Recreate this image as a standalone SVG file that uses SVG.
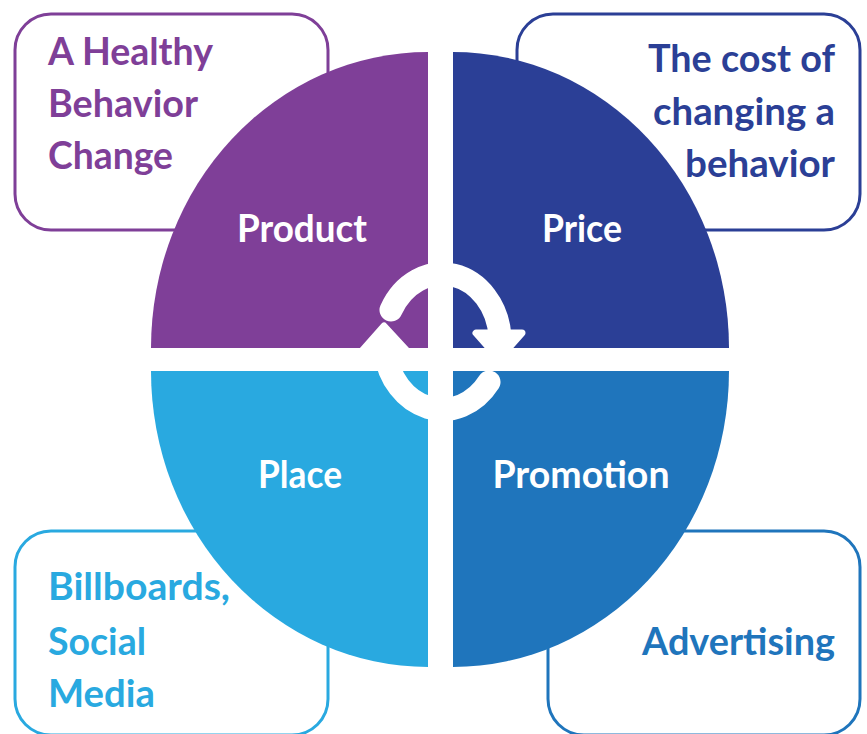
<svg xmlns="http://www.w3.org/2000/svg" width="867" height="734" viewBox="0 0 867 734">
  <style>
    .box { fill: #FFFFFF; stroke-width: 3; }
    .t { font-family: Lato, "Open Sans", "Liberation Sans", sans-serif; font-weight: bold; font-size: 38px; }
    .lbl { fill: #FFFFFF; text-anchor: middle; }
    .end { text-anchor: end; }
    .arc { fill: none; stroke: #FFFFFF; stroke-width: 23; stroke-linecap: round; }
    .head { fill: #FFFFFF; stroke: #FFFFFF; stroke-width: 7; stroke-linejoin: round; }
  </style>
  <rect width="867" height="734" fill="#FFFFFF"/>

  <g id="product">
    <rect class="box" x="15" y="14" width="313" height="216" rx="36" stroke="#7F3F98"/>
    <path d="M428,348 L151,348 A277,296 0 0 1 428,52 Z" fill="#7F3F98"/>
    <g class="t" fill="#7F3F98">
      <text x="48" y="65" textLength="165" lengthAdjust="spacingAndGlyphs">A Healthy</text>
      <text x="48" y="117" textLength="150" lengthAdjust="spacingAndGlyphs">Behavior</text>
      <text x="48" y="169" textLength="125" lengthAdjust="spacingAndGlyphs">Change</text>
    </g>
    <text class="t lbl" x="302" y="242" textLength="130" lengthAdjust="spacingAndGlyphs">Product</text>
  </g>

  <g id="price">
    <rect class="box" x="517" y="14" width="343" height="216" rx="36" stroke="#2B3F96"/>
    <path d="M453,348 L453,52 A276,296 0 0 1 729,348 Z" fill="#2B3F96"/>
    <g class="t end" fill="#2B3F96">
      <text x="835" y="72" textLength="187" lengthAdjust="spacingAndGlyphs">The cost of</text>
      <text x="835" y="125" textLength="182" lengthAdjust="spacingAndGlyphs">changing a</text>
      <text x="835" y="177" textLength="150" lengthAdjust="spacingAndGlyphs">behavior</text>
    </g>
    <text class="t lbl" x="582" y="242" textLength="80" lengthAdjust="spacingAndGlyphs">Price</text>
  </g>

  <g id="place">
    <rect class="box" x="15" y="531" width="313" height="204" rx="36" stroke="#29A9E0"/>
    <path d="M428,371 L428,667 A277,296 0 0 1 151,371 Z" fill="#29A9E0"/>
    <g class="t" fill="#29A9E0">
      <text x="48" y="600" textLength="182" lengthAdjust="spacingAndGlyphs">Billboards,</text>
      <text x="48" y="655" textLength="98" lengthAdjust="spacingAndGlyphs">Social</text>
      <text x="48" y="707" textLength="107" lengthAdjust="spacingAndGlyphs">Media</text>
    </g>
    <text class="t lbl" x="300" y="488" textLength="84" lengthAdjust="spacingAndGlyphs">Place</text>
  </g>

  <g id="promotion">
    <rect class="box" x="548" y="531" width="312" height="204" rx="36" stroke="#1F75BC"/>
    <path d="M453,371 L729,371 A276,296 0 0 1 453,667 Z" fill="#1F75BC"/>
    <text class="t end" x="835" y="655" fill="#1F75BC" textLength="193" lengthAdjust="spacingAndGlyphs">Advertising</text>
    <text class="t lbl" x="581" y="488" textLength="177" lengthAdjust="spacingAndGlyphs">Promotion</text>
  </g>

  <g id="connectors">
    <path class="arc" d="M391,310 A58,68 0 0 1 500,336"/>
    <polygon class="head" points="476,333 522,333 499,359"/>
    <path class="arc" d="M489,382 A58,68 0 0 1 385,351"/>
    <polygon class="head" points="361,352 408,352 384,326"/>
  </g>
</svg>
